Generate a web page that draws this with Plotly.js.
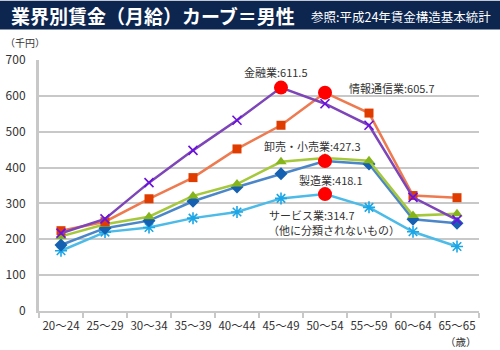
<!DOCTYPE html>
<html><head><meta charset="utf-8">
<script src="https://cdn.plot.ly/plotly-3.0.1.min.js"></script>
<style>html,body{margin:0;padding:0;background:#fff}#chart{width:500px;height:350px}</style>
</head><body><div id="chart"></div>
<script>
var categories = ["20〜24","25〜29","30〜34","35〜39","40〜44","45〜49","50〜54","55〜59","60〜64","65〜65"];
var finance     = [217, 257, 358, 448, 532, 623, 578, 518, 317, 254];   // 金融業
var infoComm    = [224, 249, 313, 372, 452, 518, 609, 552, 322, 316];   // 情報通信業
var wholesale   = [208, 242, 263, 321, 354, 416, 427, 419, 266, 271];   // 卸売・小売業
var manufacture = [184, 231, 252, 306, 346, 383, 418, 410, 256, 245];   // 製造業
var service     = [168, 220, 233, 259, 276, 314, 326, 289, 221, 180];   // サービス業
var yTicks = [0,100,200,300,400,500,600,700];

var FONT = "Noto Sans CJK JP, Noto Sans, sans-serif";
function series(name, vals, lineColor, sym, mColor, mSize, open) {
  var m = {symbol: sym, size: mSize, color: mColor};
  if (open) m.line = {color: mColor, width: 1.6};
  else m.line = {color: mColor, width: 0};
  return {type:"scatter", mode:"lines+markers", name:name, x:categories, y:vals,
          line:{color:lineColor, width:2.5}, marker:m, hoverinfo:"skip"};
}
var traces = [
  series("サービス業", service, "#4cbbe8", "asterisk-open", "#1ca6e6", 10, true),
  series("製造業", manufacture, "#4a86c8", "diamond", "#1560b0", 10, false),
  series("卸売・小売業", wholesale, "#a6c83c", "triangle-up", "#86b41c", 10, false),
  series("情報通信業", infoComm, "#ee7a50", "square", "#e03c00", 9, false),
  series("金融業", finance, "#7d45b8", "x-thin-open", "#6a10e0", 9, true)
];
var peaks = {x:[categories[5], categories[6], categories[6], categories[6]],
             y:[finance[5], infoComm[6], manufacture[6], service[6]]};
traces.push({type:"scatter", mode:"markers", x:peaks.x, y:peaks.y,
  marker:{color:"#ff0000", size:14, line:{width:0}}, hoverinfo:"skip"});

function px(x){return (x-39)/440;}
function py(y){return (311.5-y)/252;}
var annFont = {family:FONT, size:11, color:"#333333"};
function ann(x, y, text, font, anchor) {
  return {xref:"paper", yref:"paper", x:px(x), y:py(y), xanchor:anchor||"left", yanchor:"middle",
          showarrow:false, text:text, font:font||annFont};
}
var layout = {
  width:500, height:350, showlegend:false,
  margin:{l:39, r:21, t:59.5, b:38.5},
  paper_bgcolor:"#ffffff", plot_bgcolor:"#ffffff",
  font:{family:FONT, color:"#333333", size:12},
  xaxis:{type:"category", range:[-0.5,9.5], tickson:"boundaries", ticks:"outside", ticklen:5,
         tickcolor:"#c8c8c8", tickwidth:2, showline:true, linecolor:"#c8c8c8", linewidth:2,
         showgrid:false, zeroline:false, tickangle:0, ticklabelstandoff:3,
         tickfont:{family:FONT, size:11.5, color:"#333"}},
  yaxis:{range:[0,700], tickvals:yTicks, ticktext:yTicks.map(String), gridcolor:"#c8c8c8", gridwidth:2,
         showline:true, linecolor:"#c8c8c8", linewidth:3, zeroline:false, ticks:"",
         ticklabelstandoff:8, tickfont:{family:FONT, size:12, color:"#333"}},
  shapes:[{type:"rect", xref:"paper", yref:"paper", x0:px(0), x1:px(500), y0:py(29), y1:py(0),
           fillcolor:"#0d2650", line:{width:0}, layer:"above"}],
  annotations:[
    ann(9, 15, "<b>業界別賃金（月給）カーブ＝男性</b>", {family:FONT, size:19, color:"#ffffff"}),
    ann(493, 16, "参照:平成24年賃金構造基本統計", {family:FONT, size:12.5, color:"#ffffff"}, "right"),
    ann(3, 42, "（千円）", {family:FONT, size:10, color:"#333"}),
    ann(479, 342, "（歳）", {family:FONT, size:10.5, color:"#333"}, "right"),
    ann(242, 72, "金融業:611.5"),
    ann(347, 88, "情報通信業:605.7"),
    ann(262, 146, "卸売・小売業:427.3"),
    ann(297, 180, "製造業:418.1"),
    ann(267, 215, "サービス業:314.7"),
    ann(266, 230.5, "（他に分類されないもの）")
  ]
};
Plotly.newPlot("chart", traces, layout, {staticPlot:true, displayModeBar:false});
</script></body></html>
